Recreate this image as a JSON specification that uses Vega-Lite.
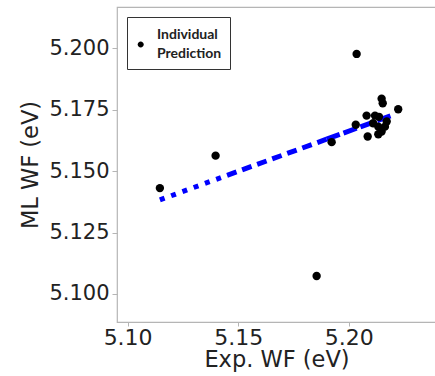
{
  "$schema": "https://vega.github.io/schema/vega-lite/v6.json",
  "width": 319,
  "height": 315,
  "autosize": "none",
  "padding": {"left": 117, "top": 7, "right": 0, "bottom": 54},
  "background": "white",
  "config": {
    "font": "DejaVu Sans",
    "view": {"stroke": "#b5b5b5", "strokeWidth": 1.2},
    "style": {"guide-label": {"lineHeight": 19}},
    "axis": {
      "grid": false,
      "domain": false,
      "tickColor": "#b5b5b5",
      "tickSize": 5,
      "labelFontSize": 21,
      "titleFontSize": 22.5,
      "labelColor": "#222222",
      "titleColor": "#222222",
      "titleFontWeight": "normal",
      "labelPadding": 3
    }
  },
  "datasets": {
    "pts": [
      {"exp": 5.1146, "ml": 5.1431},
      {"exp": 5.1398, "ml": 5.1563},
      {"exp": 5.2036, "ml": 5.1977},
      {"exp": 5.1855, "ml": 5.1073},
      {"exp": 5.1923, "ml": 5.1618},
      {"exp": 5.2032, "ml": 5.1689},
      {"exp": 5.2081, "ml": 5.1726},
      {"exp": 5.2086, "ml": 5.1641},
      {"exp": 5.2149, "ml": 5.1795},
      {"exp": 5.2154, "ml": 5.1776},
      {"exp": 5.2224, "ml": 5.1752},
      {"exp": 5.2119, "ml": 5.1726},
      {"exp": 5.2137, "ml": 5.1721},
      {"exp": 5.2111, "ml": 5.1695},
      {"exp": 5.2134, "ml": 5.1681},
      {"exp": 5.2149, "ml": 5.1661},
      {"exp": 5.2134, "ml": 5.1650},
      {"exp": 5.2164, "ml": 5.1681},
      {"exp": 5.2172, "ml": 5.1702}
    ],
    "fit": [
      {"exp": 5.1146, "ml": 5.1383, "seg": "a"},
      {"exp": 5.1450, "ml": 5.1483, "seg": "a"},
      {"exp": 5.1450, "ml": 5.1483, "seg": "b"},
      {"exp": 5.1900, "ml": 5.1630, "seg": "b"},
      {"exp": 5.1900, "ml": 5.1630, "seg": "c"},
      {"exp": 5.2205, "ml": 5.1730, "seg": "c"}
    ]
  },
  "layer": [
    {
      "data": {"name": "fit"},
      "mark": {"type": "line", "color": "#0000ff", "strokeWidth": 5, "clip": true},
      "encoding": {
        "x": {"field": "exp", "type": "quantitative"},
        "y": {"field": "ml", "type": "quantitative"},
        "strokeDash": {
          "field": "seg", "type": "nominal",
          "scale": {"domain": ["a", "b", "c"], "range": [[5, 7], [10, 6], [14, 4]]},
          "legend": null
        }
      }
    },
    {
      "data": {"name": "pts"},
      "mark": {"type": "circle", "size": 70, "opacity": 1, "clip": true},
      "encoding": {
        "x": {
          "field": "exp", "type": "quantitative",
          "scale": {"domain": [5.0952, 5.2395], "nice": false, "zero": false},
          "axis": {"values": [5.10, 5.15, 5.20], "format": ".2f", "title": "Exp. WF (eV)", "titlePadding": 0, "labelFontSize": 22, "tickSize": 4, "labelPadding": 1}
        },
        "y": {
          "field": "ml", "type": "quantitative",
          "scale": {"domain": [5.0886, 5.2168], "nice": false, "zero": false},
          "axis": {"values": [5.100, 5.125, 5.150, 5.175, 5.200], "format": ".3f", "title": "ML WF (eV)", "titlePadding": 6}
        },
        "color": {
          "datum": "Individual Prediction",
          "scale": {"range": ["black"]},
          "legend": {
            "title": null,
            "orient": "top-left",
            "offset": 10,
            "strokeColor": "#333333",
            "fillColor": "white",
            "padding": 8,
            "symbolType": "M -0.73 0.95 A 0.3 0.3 0 1 0 -0.13 0.95 A 0.3 0.3 0 1 0 -0.73 0.95 Z",
            "symbolSize": 400,
            "symbolStrokeWidth": 0,
            "labelFont": "Lato",
            "labelFontSize": 14,
            "labelFontWeight": "bold",
            "labelBaseline": "middle",
            "labelOffset": 2,
            "labelColor": "#222222",
            "labelExpr": "['Individual', 'Prediction']",
            "labelLimit": 200
          }
        }
      }
    }
  ]
}
